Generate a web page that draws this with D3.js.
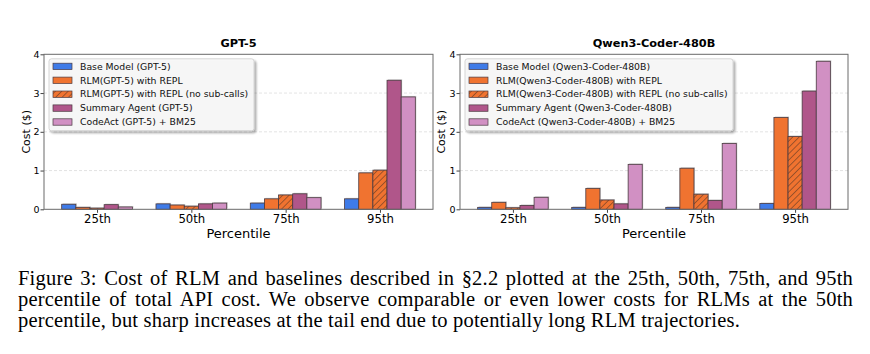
<!DOCTYPE html>
<html>
<head>
<meta charset="utf-8">
<script src="https://cdn.jsdelivr.net/npm/d3@7"></script>
<style>
  body { margin: 0; background: #fff; }
  #chart { position: absolute; left: 0; top: 0; }
  .caption {
    position: absolute; left: 18px; width: 835px;
    font-family: "Liberation Serif", "Times New Roman", serif;
    font-size: 20.5px; line-height: 21.3px; letter-spacing: 0.2px; color: #000;
  }
  .caption div.j { text-align: justify; text-align-last: justify; }
  .tick text { font-family: "DejaVu Sans", sans-serif; fill: #000; }
</style>
</head>
<body>
<svg id="chart" width="870" height="260"></svg>
<div class="caption" style="top:267.7px">
  <div class="j">Figure 3: Cost of RLM and baselines described in §2.2 plotted at the 25th, 50th, 75th, and 95th</div>
  <div class="j">percentile of total API cost. We observe comparable or even lower costs for RLMs at the 50th</div>
  <div>percentile, but sharp increases at the tail end due to potentially long RLM trajectories.</div>
</div>
<script>
const percentiles = ["25th", "50th", "75th", "95th"];
const yTicks = [0, 1, 2, 3, 4];

// GPT-5 costs ($)
const gptBase = [0.13, 0.14, 0.16, 0.27];
const gptRlm = [0.05, 0.11, 0.27, 0.94];
const gptRlmNoSub = [0.03, 0.08, 0.37, 1.01];
const gptSummary = [0.12, 0.14, 0.40, 3.33];
const gptCodeAct = [0.06, 0.16, 0.30, 2.90];

// Qwen3-Coder-480B costs ($)
const qwenBase = [0.05, 0.05, 0.05, 0.15];
const qwenRlm = [0.18, 0.54, 1.06, 2.37];
const qwenRlmNoSub = [0.04, 0.24, 0.39, 1.88];
const qwenSummary = [0.10, 0.14, 0.23, 3.05];
const qwenCodeAct = [0.31, 1.16, 1.70, 3.82];

const seriesColors = ["#3f7be8", "#f07330", "#f07330", "#b0568a", "#d190c3"];
const seriesHatch = [false, false, true, false, false];
const seriesLabels = [
  m => `Base Model (${m})`,
  m => `RLM(${m}) with REPL`,
  m => `RLM(${m}) with REPL (no sub-calls)`,
  m => `Summary Agent (${m})`,
  m => `CodeAct (${m}) + BM25`
];

const panels = [
  { model: "GPT-5", x0: 44, x1: 433, labelX: 26, legendW: 205,
    data: [gptBase, gptRlm, gptRlmNoSub, gptSummary, gptCodeAct] },
  { model: "Qwen3-Coder-480B", x0: 460, x1: 848, labelX: 441, legendW: 268,
    data: [qwenBase, qwenRlm, qwenRlmNoSub, qwenSummary, qwenCodeAct] }
];

const plotTop = 54.3, plotBottom = 209.3;
const barW = 0.15;
const svg = d3.select("#chart");
const font = "DejaVu Sans, sans-serif";

const defs = svg.append("defs");
defs.append("pattern")
  .attr("id", "hatch")
  .attr("patternUnits", "userSpaceOnUse")
  .attr("width", 4.5).attr("height", 4.5)
  .attr("patternTransform", "rotate(45)")
  .call(p => {
    p.append("rect").attr("width", 4.5).attr("height", 4.5).attr("fill", "#f07330");
    p.append("line").attr("x1", 0).attr("y1", 0).attr("x2", 0).attr("y2", 4.5)
      .attr("stroke", "#3a2a22").attr("stroke-width", 0.9);
  });
const shadow = defs.append("filter").attr("id", "lshadow")
  .attr("x", "-10%").attr("y", "-10%").attr("width", "130%").attr("height", "130%");
shadow.append("feGaussianBlur").attr("in", "SourceAlpha").attr("stdDeviation", 1);
shadow.append("feOffset").attr("dx", 2).attr("dy", 2).attr("result", "b");
shadow.append("feComponentTransfer").call(f => f.append("feFuncA").attr("type", "linear").attr("slope", 0.35));
shadow.append("feMerge").call(f => { f.append("feMergeNode"); f.append("feMergeNode").attr("in", "SourceGraphic"); });

panels.forEach(pn => {
  const x = d3.scaleLinear().domain([-0.5625, 3.5625]).range([pn.x0, pn.x1]);
  const y = d3.scaleLinear().domain([0, 4]).range([plotBottom, plotTop]);
  const g = svg.append("g");

  // grid
  g.selectAll(".grid").data([1, 2, 3]).enter().append("line")
    .attr("x1", pn.x0).attr("x2", pn.x1)
    .attr("y1", d => y(d)).attr("y2", d => y(d))
    .attr("stroke", "#dcdcdc").attr("stroke-width", 0.8).attr("stroke-dasharray", "3,2");

  // bars
  pn.data.forEach((vals, si) => {
    const off = (si - 2) * barW;
    const bw = x(barW) - x(0);
    g.selectAll(null).data(vals).enter().append("rect")
      .attr("x", (d, i) => x(i + off - barW / 2) + 1)
      .attr("y", d => y(d) - 1)
      .attr("width", bw).attr("height", d => plotBottom - y(d))
      .attr("fill", "#bbbbbb").attr("opacity", 0.7);
    g.selectAll(null).data(vals).enter().append("rect")
      .attr("x", (d, i) => x(i + off - barW / 2))
      .attr("y", d => y(d))
      .attr("width", bw).attr("height", d => plotBottom - y(d))
      .attr("fill", seriesHatch[si] ? "url(#hatch)" : seriesColors[si])
      .attr("stroke", "#4a3a40").attr("stroke-width", 0.8);
  });

  // axes
  const xAxis = d3.axisBottom(x).tickValues([0, 1, 2, 3])
    .tickFormat(i => percentiles[i]).tickSize(3.5).tickPadding(2);
  const xg = g.append("g").attr("transform", `translate(0,${plotBottom})`).call(xAxis);
  xg.select(".domain").remove();
  xg.selectAll(".tick line").attr("stroke", "#444");
  xg.selectAll(".tick text").attr("font-size", 11.7);

  const yAxis = d3.axisLeft(y).tickValues(yTicks).tickFormat(d3.format("d"))
    .tickSize(3.5).tickPadding(1);
  const yg = g.append("g").attr("transform", `translate(${pn.x0},0)`).call(yAxis);
  yg.select(".domain").remove();
  yg.selectAll(".tick line").attr("stroke", "#444");
  yg.selectAll(".tick text").attr("font-size", 9.5);

  // frame
  g.append("rect").attr("x", pn.x0).attr("y", plotTop)
    .attr("width", pn.x1 - pn.x0).attr("height", plotBottom - plotTop)
    .attr("fill", "none").attr("stroke", "#6a6a6a").attr("stroke-width", 1);

  // labels
  g.append("text").attr("x", (pn.x0 + pn.x1) / 2).attr("y", 238)
    .attr("text-anchor", "middle").attr("font-family", font).attr("font-size", 13)
    .text("Percentile");
  g.append("text").attr("transform", `translate(${pn.labelX},${(plotTop + plotBottom) / 2}) rotate(-90)`)
    .attr("text-anchor", "middle").attr("dy", "0.35em")
    .attr("font-family", font).attr("font-size", 11).text("Cost ($)");
  g.append("text").attr("x", (pn.x0 + pn.x1) / 2).attr("y", 47)
    .attr("text-anchor", "middle").attr("font-family", font).attr("font-size", 11.3)
    .attr("font-weight", "bold").text(pn.model);

  // legend
  const lx = pn.x0 + 5, ly = plotTop + 4.5;
  const lg = g.append("g").attr("transform", `translate(${lx},${ly})`);
  lg.append("rect").attr("width", pn.legendW).attr("height", 72).attr("rx", 2.5)
    .attr("fill", "#f8f8f8").attr("fill-opacity", 0.95)
    .attr("stroke", "#cccccc").attr("stroke-width", 0.8).attr("filter", "url(#lshadow)");
  seriesLabels.forEach((lab, si) => {
    const cy = 7.6 + si * 13.9;
    lg.append("rect").attr("x", 4).attr("y", cy - 3.2).attr("width", 19).attr("height", 6.4)
      .attr("fill", seriesHatch[si] ? "url(#hatch)" : seriesColors[si])
      .attr("stroke", "#4a3a40").attr("stroke-width", 0.7);
    lg.append("text").attr("x", 31).attr("y", cy).attr("dy", "0.35em")
      .attr("font-family", font).attr("font-size", 9.3).attr("fill", "#111")
      .text(lab(pn.model));
  });
});
</script>
</body>
</html>
